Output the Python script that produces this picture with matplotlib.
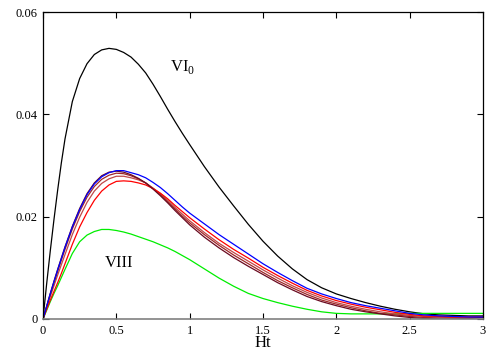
import matplotlib
matplotlib.use("Agg")
import matplotlib.pyplot as plt

plt.rcParams["font.family"] = ["Liberation Serif", "DejaVu Serif"]
plt.rcParams["mathtext.fontset"] = "custom"
plt.rcParams["mathtext.rm"] = "Liberation Serif"

# Ht values shared by all curves
ht = [0, 0.025, 0.05, 0.075, 0.1, 0.125, 0.15, 0.2, 0.25, 0.3, 0.35, 0.4, 0.45,
      0.5, 0.55, 0.6, 0.65, 0.7, 0.75, 0.8, 0.85, 0.9, 0.95, 1.0, 1.1, 1.2,
      1.3, 1.4, 1.5, 1.6, 1.7, 1.8, 1.9, 2.0, 2.1, 2.2, 2.3, 2.4, 2.5, 2.6,
      2.7, 2.8, 2.9, 3.0]

vi0 = [0, 0.0069, 0.0134, 0.0195, 0.0252, 0.0305, 0.0352, 0.0425, 0.0470, 0.0499,
       0.0517, 0.0526, 0.0529, 0.0527, 0.0521, 0.0512, 0.0498, 0.0481, 0.0459,
       0.0435, 0.0410, 0.0386, 0.0363, 0.0341, 0.0298, 0.0258, 0.0221, 0.0185,
       0.0152, 0.0123, 0.0098, 0.0077, 0.0061, 0.0049, 0.0040, 0.0032, 0.0025,
       0.0019, 0.0014, 0.0010, 0.0008, 0.0007, 0.0006, 0.0006]

blue = [0, 0.0025, 0.0050, 0.0073, 0.0096, 0.0118, 0.0140, 0.0180, 0.0214, 0.0243,
        0.0264, 0.0278, 0.0286, 0.0290, 0.0290, 0.0286, 0.0282, 0.0276, 0.0267,
        0.0257, 0.0245, 0.0232, 0.0219, 0.0207, 0.0186, 0.0165, 0.0146, 0.0127,
        0.0108, 0.0091, 0.0075, 0.0060, 0.0049, 0.0040, 0.0032, 0.0026, 0.0021,
        0.0016, 0.0011, 0.0008, 0.0006, 0.0005, 0.0004, 0.0004]

red = [0, 0.0019, 0.0037, 0.0054, 0.0071, 0.0089, 0.0108, 0.0146, 0.0180, 0.0208,
       0.0232, 0.0250, 0.0262, 0.0269, 0.0270, 0.0269, 0.0266, 0.0262, 0.0255,
       0.0246, 0.0235, 0.0222, 0.0210, 0.0198, 0.0176, 0.0155, 0.0136, 0.0119,
       0.0101, 0.0085, 0.0070, 0.0056, 0.0045, 0.0036, 0.0029, 0.0023, 0.0018,
       0.0013, 0.0009, 0.0006, 0.0005, 0.0004, 0.0004, 0.0004]

rosy = [0, 0.0022, 0.0044, 0.0065, 0.0086, 0.0106, 0.0126, 0.0165, 0.0199, 0.0228,
        0.0250, 0.0265, 0.0274, 0.0279, 0.0279, 0.0276, 0.0272, 0.0266, 0.0256,
        0.0245, 0.0232, 0.0218, 0.0205, 0.0192, 0.0169, 0.0148, 0.0130, 0.0113,
        0.0096, 0.0080, 0.0065, 0.0052, 0.0041, 0.0032, 0.0025, 0.0019, 0.0014,
        0.0010, 0.0007, 0.0005, 0.0004, 0.0003, 0.0003, 0.0004]

brown = [0, 0.0024, 0.0048, 0.0071, 0.0093, 0.0115, 0.0136, 0.0176, 0.0210, 0.0238,
         0.0259, 0.0273, 0.0281, 0.0285, 0.0284, 0.0280, 0.0274, 0.0266, 0.0255,
         0.0243, 0.0229, 0.0215, 0.0201, 0.0188, 0.0165, 0.0144, 0.0125, 0.0108,
         0.0091, 0.0075, 0.0061, 0.0048, 0.0037, 0.0029, 0.0022, 0.0016, 0.0011,
         0.0008, 0.0005, 0.0003, 0.0002, 0.0002, 0.0002, 0.0003]

maroon = [0, 0.0025, 0.0050, 0.0074, 0.0097, 0.0119, 0.0141, 0.0181, 0.0216, 0.0245,
          0.0266, 0.0280, 0.0287, 0.0289, 0.0287, 0.0282, 0.0275, 0.0266, 0.0254,
          0.0241, 0.0227, 0.0212, 0.0198, 0.0184, 0.0160, 0.0139, 0.0120, 0.0103,
          0.0087, 0.0071, 0.0057, 0.0044, 0.0034, 0.0026, 0.0019, 0.0014, 0.0010,
          0.0006, 0.0003, 0.0001, 0.0000, 0.0000, 0.0001, 0.0003]

viii = [0, 0.0017, 0.0034, 0.0050, 0.0065, 0.0081, 0.0097, 0.0128, 0.0151, 0.0164,
        0.0171, 0.0175, 0.0175, 0.0173, 0.0170, 0.0166, 0.0161, 0.0156, 0.0151,
        0.0145, 0.0139, 0.0132, 0.0124, 0.0116, 0.0098, 0.0080, 0.0064, 0.0050,
        0.0040, 0.0032, 0.0025, 0.0019, 0.0014, 0.0011, 0.0010, 0.0010, 0.0010,
        0.0010, 0.0011, 0.0011, 0.0011, 0.0011, 0.0011, 0.0011]

xticks = [0, 0.5, 1, 1.5, 2, 2.5, 3]
xticklabels = ["0", "0.5", "1", "1.5", "2", "2.5", "3"]
yticks = [0, 0.02, 0.04, 0.06]
yticklabels = ["0", "0.02", "0.04", "0.06"]

fig = plt.figure(figsize=(5, 3.5), dpi=100)
ax = fig.add_axes([0.086, 0.0886, 0.88, 0.877])

lw = 0.9
ax.plot(ht, vi0, color="black", lw=lw)
ax.plot(ht, viii, color="#00ee00", lw=lw)
ax.plot(ht, rosy, color="#c04848", lw=lw)
ax.plot(ht, brown, color="#a02828", lw=lw)
ax.plot(ht, red, color="#ff0000", lw=lw)
ax.plot(ht, maroon, color="#6a0a20", lw=lw)
ax.plot(ht, blue, color="#0000ff", lw=lw)

ax.text(0.866, 0.0492, r"VI$_\mathrm{0}$", fontsize=12, ha="left", va="center")
ax.text(0.52, 0.0109, "VIII", fontsize=12, ha="center", va="center")
ax.text(1.5, -0.0047, "Ht", fontsize=12, ha="center", va="center")

ax.set_xlim(0, 3)
ax.set_ylim(0, 0.06)
ax.set_xticks(xticks)
ax.set_xticklabels(xticklabels)
ax.set_yticks(yticks)
ax.set_yticklabels(yticklabels)
ax.tick_params(direction="in", length=4, width=0.8, top=True, right=True,
               labelsize=9, pad=4)
for side in ["left", "right", "top"]:
    ax.spines[side].set_linewidth(0.9)
ax.spines["bottom"].set_color("#808080")
ax.spines["bottom"].set_linewidth(1.2)

fig.savefig("out.png", dpi=100)
